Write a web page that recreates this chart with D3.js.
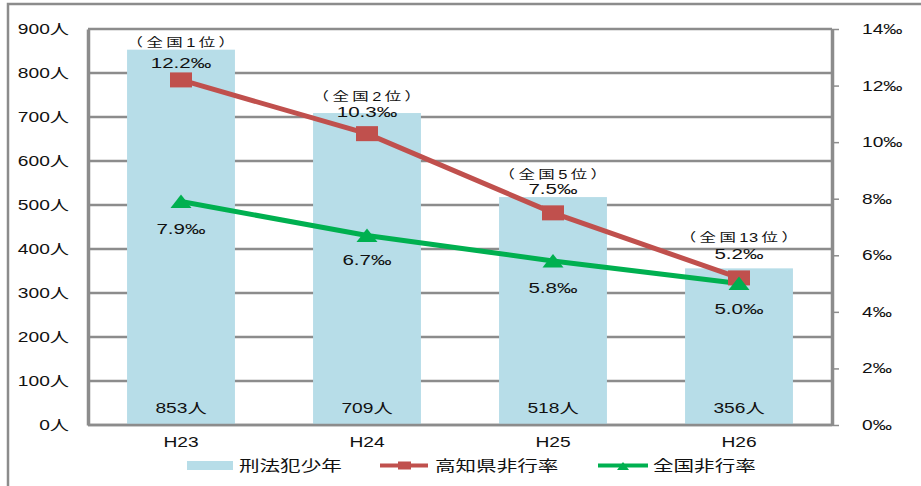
<!DOCTYPE html>
<html><head><meta charset="utf-8">
<script src="https://cdn.jsdelivr.net/npm/d3@7"></script>
<style>
body{margin:0;background:#fff;}
text{font-family:"Liberation Sans","Noto Sans CJK JP",sans-serif;fill:#111;}
</style></head>
<body><svg id="c" width="921" height="486"></svg>
<script>
const categories = ["H23","H24","H25","H26"];
const juvenileCount = [853,709,518,356];
const kochiRate = [12.2,10.3,7.5,5.2];
const nationalRate = [7.9,6.7,5.8,5.0];
const kochiRank = ["（全国1位）","（全国2位）","（全国5位）","（全国13位）"];
const leftTicks = [0,100,200,300,400,500,600,700,800,900];
const rightTicks = [0,2,4,6,8,10,12,14];
const seriesNames = ["刑法犯少年","高知県非行率","全国非行率"];

const svg = d3.select("#c");
const L=88, R=832, T=29, B=425, S=1.37;
const blue="#B7DDE8", red="#C0504D", green="#00B050", grid="#8c8c8c";

function stretch(sel){
  sel.attr("transform",function(){
    const x=+this.getAttribute("x")||0, y=+this.getAttribute("y")||0;
    return `translate(${x},${y}) scale(${S},1)`;
  }).attr("x",0).attr("y",0);
}

svg.append("path").attr("d","M8,490 V4 H925").attr("fill","none").attr("stroke","#8c8c8c").attr("stroke-width",2.5);

const xc = d3.scaleBand().domain(categories).range([L,R]);
const yL = d3.scaleLinear().domain([0,900]).range([B,T]);
const yR = d3.scaleLinear().domain([0,14]).range([B,T]);
const cx = c => xc(c)+xc.bandwidth()/2;
const barW = xc.bandwidth()*0.58;

svg.append("g").selectAll("line").data(leftTicks).join("line")
  .attr("x1",L).attr("x2",R).attr("y1",d=>yL(d)).attr("y2",d=>yL(d))
  .attr("stroke",grid).attr("stroke-width",2.5);

svg.append("g").selectAll("rect").data(juvenileCount).join("rect")
  .attr("x",(d,i)=>cx(categories[i])-barW/2).attr("width",barW)
  .attr("y",d=>yL(d)).attr("height",d=>B-yL(d)-1).attr("fill",blue);

svg.append("line").attr("x1",L).attr("x2",R).attr("y1",B).attr("y2",B).attr("stroke",grid).attr("stroke-width",2.5);

const axL = svg.append("g").attr("transform",`translate(${L},0)`)
  .call(d3.axisLeft(yL).tickValues(leftTicks).tickSize(0).tickPadding(19).tickFormat(d=>d+"人"));
axL.select(".domain").attr("stroke",grid).attr("stroke-width",3.5);
axL.selectAll("text").style("font-size","14px").attr("fill","#111").call(stretch);

const axR = svg.append("g").attr("transform",`translate(${R},0)`)
  .call(d3.axisRight(yR).tickValues(rightTicks).tickSize(7).tickSizeOuter(0).tickPadding(23).tickFormat(d=>d+"‰"));
axR.select(".domain").attr("stroke",grid).attr("stroke-width",3.5);
axR.selectAll(".tick line").attr("stroke",grid).attr("stroke-width",1.5);
axR.selectAll("text").style("font-size","14px").attr("fill","#111").call(stretch);

svg.append("g").selectAll("text").data(categories).join("text")
  .attr("x",d=>cx(d)).attr("y",447).attr("text-anchor","middle").style("font-size","14px").text(d=>d).call(stretch);

svg.append("g").selectAll("text").data(juvenileCount).join("text")
  .attr("x",(d,i)=>cx(categories[i])).attr("y",413).attr("text-anchor","middle").style("font-size","14px").text(d=>d+"人").call(stretch);

const line = d3.line().x((d,i)=>cx(categories[i])).y(d=>yR(d));
svg.append("path").attr("d",line(kochiRate)).attr("fill","none").attr("stroke",red).attr("stroke-width",5);
svg.append("path").attr("d",line(nationalRate)).attr("fill","none").attr("stroke",green).attr("stroke-width",5);

svg.append("g").selectAll("rect").data(kochiRate).join("rect")
  .attr("x",(d,i)=>cx(categories[i])-11).attr("y",d=>yR(d)-7.5).attr("width",22).attr("height",15).attr("fill",red);
svg.append("g").selectAll("path").data(nationalRate).join("path")
  .attr("d","M0,-7 L10.5,6.5 L-10.5,6.5 Z")
  .attr("transform",(d,i)=>`translate(${cx(categories[i])},${yR(d)})`).attr("fill",green);

const kLab=[-12,-17,-19,-19], kRank=[-33,-33,-34,-36];
svg.append("g").selectAll("text").data(kochiRate).join("text")
  .attr("x",(d,i)=>cx(categories[i])).attr("y",(d,i)=>yR(d)+kLab[i]).attr("text-anchor","middle")
  .style("font-size","15px").text(d=>d.toFixed(1)+"‰").call(stretch);
const rankT = svg.append("g").selectAll("text").data(kochiRank).join("text")
  .attr("x",(d,i)=>cx(categories[i])+1.5).attr("y",(d,i)=>yR(kochiRate[i])+kRank[i]).attr("text-anchor","middle")
  .style("font-size","12px").style("letter-spacing","2.5px");
rankT.each(function(d){
  const t=d3.select(this);
  d.match(/\d+|\D+/g).forEach((part,j,arr)=>{
    const isNum=/\d/.test(part);
    const ts=t.append("tspan").text(part);
    if(isNum && part.length>1){
      ts.text(part.slice(0,-1)).style("letter-spacing","0.5px");
      t.append("tspan").text(part.slice(-1));
    }
  });
});
rankT.call(stretch);

const nLab=[32,30,32,30];
svg.append("g").selectAll("text").data(nationalRate).join("text")
  .attr("x",(d,i)=>cx(categories[i])).attr("y",(d,i)=>yR(d)+nLab[i]).attr("text-anchor","middle")
  .style("font-size","15px").text(d=>d.toFixed(1)+"‰").call(stretch);

const lg = svg.append("g");
lg.append("rect").attr("x",187).attr("y",461).attr("width",46).attr("height",9).attr("fill",blue);
lg.append("text").attr("x",239).attr("y",471).style("font-size","15px").text(seriesNames[0]).call(stretch);
lg.append("line").attr("x1",380).attr("x2",428).attr("y1",465.5).attr("y2",465.5).attr("stroke",red).attr("stroke-width",4);
lg.append("rect").attr("x",398).attr("y",461.5).attr("width",13).attr("height",8).attr("fill",red);
lg.append("text").attr("x",435).attr("y",471).style("font-size","15px").text(seriesNames[1]).call(stretch);
lg.append("line").attr("x1",598).attr("x2",648).attr("y1",465.5).attr("y2",465.5).attr("stroke",green).attr("stroke-width",4);
lg.append("path").attr("d","M0,-4 L6,4 L-6,4 Z").attr("transform","translate(623,466)").attr("fill",green);
lg.append("text").attr("x",653).attr("y",471).style("font-size","15px").text(seriesNames[2]).call(stretch);
</script></body></html>
